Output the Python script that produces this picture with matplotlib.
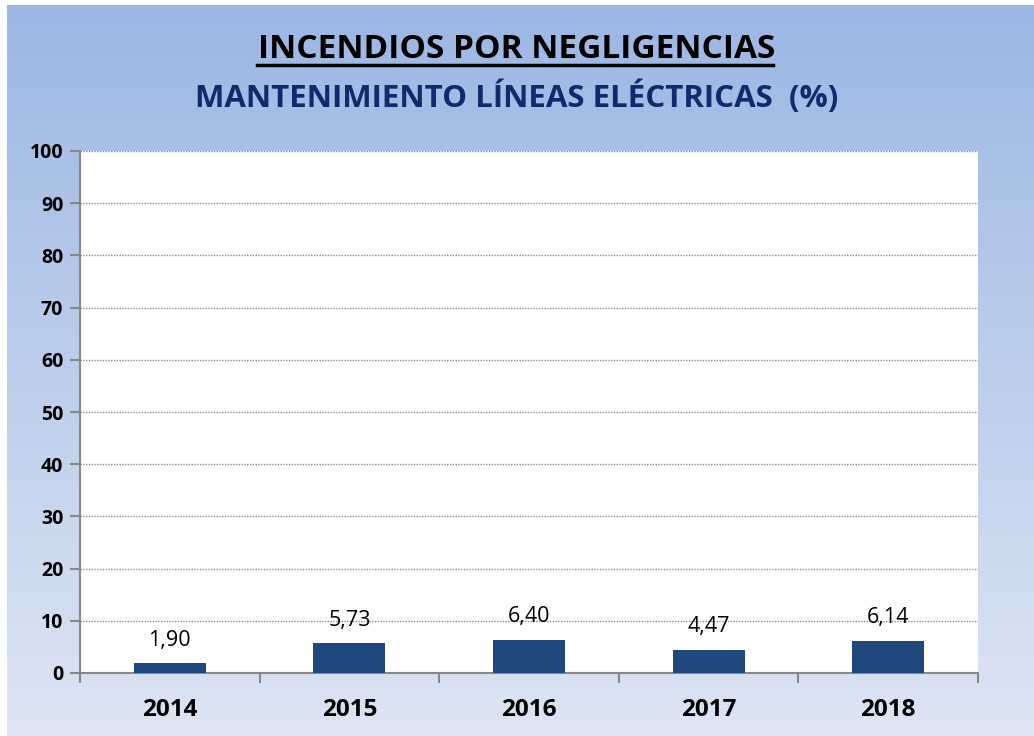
import numpy as np
import matplotlib.pyplot as plt

years = ["2014", "2015", "2016", "2017", "2018"]
values = [1.90, 5.73, 6.40, 4.47, 6.14]
labels = ["1,90", "5,73", "6,40", "4,47", "6,14"]
yticks = list(range(0, 101, 10))

W, H = 1034, 736
FONT = "Open Sans"
fig = plt.figure(figsize=(W / 100, H / 100), dpi=100)
fig.patch.set_facecolor("white")

# fondo degradado
bg = fig.add_axes([7 / W, 0, 1 - 7 / W, 1 - 5 / H])
top = np.array([0x9c, 0xb7, 0xe4]) / 255
bot = np.array([0xdd, 0xe5, 0xf3]) / 255
t = np.linspace(0, 1, 256)[:, None]
grad = top[None, :] * (1 - t) + bot[None, :] * t
bg.imshow(grad[:, None, :], aspect="auto", extent=[0, 1, 0, 1])
bg.set_axis_off()

ax = fig.add_axes([80 / W, 1 - 673 / H, (978 - 80) / W, (673 - 151) / H])
ax.set_facecolor("white")
x = np.arange(len(years))
ax.bar(x, values, width=0.4, color="#1f497d", zorder=3)
ax.set_xlim(-0.5, len(years) - 0.5)
ax.set_ylim(0, 100)
ax.set_yticks(yticks)
ax.yaxis.grid(True, linestyle=(0, (1, 1)), color="#8c8c8c", linewidth=1)
ax.set_axisbelow(True)

for s in ["top", "right"]:
    ax.spines[s].set_visible(False)
for s in ["left", "bottom"]:
    ax.spines[s].set_color("#888888")
    ax.spines[s].set_linewidth(1.5)

ax.tick_params(axis="y", length=7, width=1.5, color="#888888", pad=5)
ax.set_yticklabels([str(v) for v in yticks], fontsize=14, fontweight="bold",
                   family=FONT)
ax.set_xticks(np.arange(len(years) + 1) - 0.5, minor=True)
ax.set_xticks(x)
ax.set_xticklabels(years, fontsize=17.5, fontweight="bold", family=FONT)
ax.tick_params(axis="x", which="major", length=0, pad=18)
ax.tick_params(axis="x", which="minor", length=7, width=1.5, color="#888888")

for xi, v, lb in zip(x, values, labels):
    ax.annotate(lb, (xi, v), xytext=(0, 9), textcoords="offset points",
                ha="center", va="bottom", fontsize=15.5, family=FONT)

fig.text(0.5, 1 - 50 / H, "INCENDIOS POR NEGLIGENCIAS", ha="center", va="center",
         fontsize=24, fontweight="bold", family=FONT, color="black")
fig.text(0.5, 1 - 97 / H, "MANTENIMIENTO LÍNEAS ELÉCTRICAS  (%)", ha="center",
         va="center", fontsize=22.5, fontweight="bold", family=FONT, color="#112a6c")
# subrayado del título
fig.add_artist(plt.Line2D([257 / W, 773 / W], [1 - 65 / H, 1 - 65 / H],
                          color="black", linewidth=2.5))

fig.savefig("out.png", dpi=100)
